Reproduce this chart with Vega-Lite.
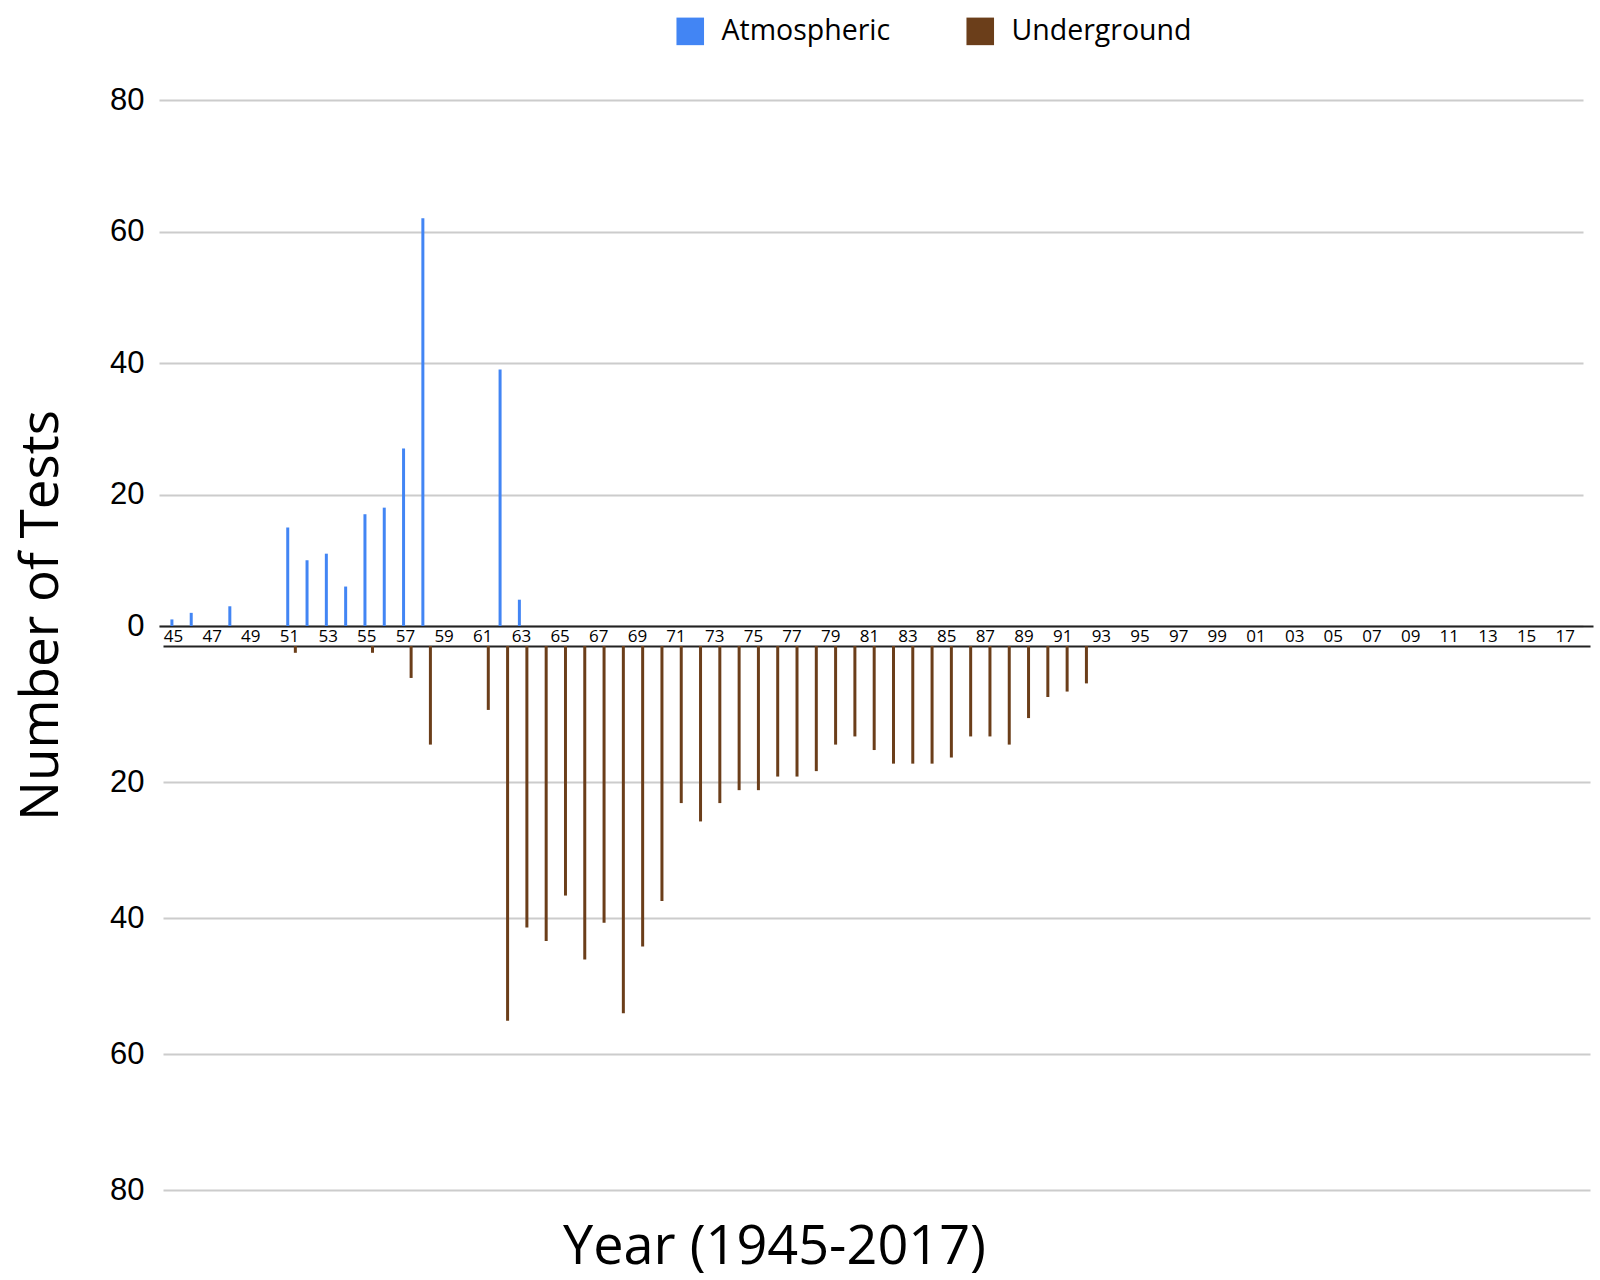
{
  "$schema": "https://vega.github.io/schema/vega-lite/v6.json",
  "padding": {"left": 15, "top": 17, "right": 5, "bottom": 5},
  "autosize": {"type": "pad"},
  "background": "white",
  "bounds": "flush",
  "spacing": 20,
  "config": {"view": {"stroke": null}},
  "datasets": {
    "atm": [
      {"year": 1945, "tests": 1, "type": "Atmospheric"},
      {"year": 1946, "tests": 2, "type": "Atmospheric"},
      {"year": 1948, "tests": 3, "type": "Atmospheric"},
      {"year": 1951, "tests": 15, "type": "Atmospheric"},
      {"year": 1952, "tests": 10, "type": "Atmospheric"},
      {"year": 1953, "tests": 11, "type": "Atmospheric"},
      {"year": 1954, "tests": 6, "type": "Atmospheric"},
      {"year": 1955, "tests": 17, "type": "Atmospheric"},
      {"year": 1956, "tests": 18, "type": "Atmospheric"},
      {"year": 1957, "tests": 27, "type": "Atmospheric"},
      {"year": 1958, "tests": 62, "type": "Atmospheric"},
      {"year": 1962, "tests": 39, "type": "Atmospheric"},
      {"year": 1963, "tests": 4, "type": "Atmospheric"}
    ],
    "und": [
      {"year": 1951, "tests": 1, "type": "Underground"},
      {"year": 1955, "tests": 1, "type": "Underground"},
      {"year": 1957, "tests": 4.7, "type": "Underground"},
      {"year": 1958, "tests": 14.5, "type": "Underground"},
      {"year": 1961, "tests": 9.4, "type": "Underground"},
      {"year": 1962, "tests": 55.1, "type": "Underground"},
      {"year": 1963, "tests": 41.4, "type": "Underground"},
      {"year": 1964, "tests": 43.4, "type": "Underground"},
      {"year": 1965, "tests": 36.7, "type": "Underground"},
      {"year": 1966, "tests": 46.1, "type": "Underground"},
      {"year": 1967, "tests": 40.7, "type": "Underground"},
      {"year": 1968, "tests": 54, "type": "Underground"},
      {"year": 1969, "tests": 44.2, "type": "Underground"},
      {"year": 1970, "tests": 37.5, "type": "Underground"},
      {"year": 1971, "tests": 23.1, "type": "Underground"},
      {"year": 1972, "tests": 25.8, "type": "Underground"},
      {"year": 1973, "tests": 23.1, "type": "Underground"},
      {"year": 1974, "tests": 21.2, "type": "Underground"},
      {"year": 1975, "tests": 21.2, "type": "Underground"},
      {"year": 1976, "tests": 19.2, "type": "Underground"},
      {"year": 1977, "tests": 19.2, "type": "Underground"},
      {"year": 1978, "tests": 18.4, "type": "Underground"},
      {"year": 1979, "tests": 14.5, "type": "Underground"},
      {"year": 1980, "tests": 13.3, "type": "Underground"},
      {"year": 1981, "tests": 15.3, "type": "Underground"},
      {"year": 1982, "tests": 17.3, "type": "Underground"},
      {"year": 1983, "tests": 17.3, "type": "Underground"},
      {"year": 1984, "tests": 17.3, "type": "Underground"},
      {"year": 1985, "tests": 16.4, "type": "Underground"},
      {"year": 1986, "tests": 13.3, "type": "Underground"},
      {"year": 1987, "tests": 13.3, "type": "Underground"},
      {"year": 1988, "tests": 14.5, "type": "Underground"},
      {"year": 1989, "tests": 10.6, "type": "Underground"},
      {"year": 1990, "tests": 7.5, "type": "Underground"},
      {"year": 1991, "tests": 6.7, "type": "Underground"},
      {"year": 1992, "tests": 5.5, "type": "Underground"}
    ]
  },
  "vconcat": [
    {
      "width": 1424,
      "height": 526,
      "data": {"name": "atm"},
      "layer": [
        {
          "mark": {"type": "bar", "size": 3},
          "encoding": {
            "x": {"field": "year", "type": "quantitative", "scale": {"domain": [1944.59, 2017.84], "nice": false, "zero": false}, "axis": null},
            "y": {
              "field": "tests", "type": "quantitative",
              "scale": {"domain": [0, 80], "nice": false},
              "axis": {
                "values": [0, 20, 40, 60, 80], "grid": true, "gridColor": "#cccccc", "gridWidth": 2,
                "domain": false, "ticks": false, "tickSize": 0,
                "labelFont": "Liberation Sans", "labelFontSize": 31, "labelColor": "black", "labelPadding": 15,
                "title": "Number of Tests", "titleFont": "Open Sans", "titleFontSize": 53, "titleFontWeight": "normal",
                "titleColor": "black", "titleAngle": 270, "titleAlign": "center", "titleBaseline": "middle",
                "titleX": -118, "titleY": 515
              }
            },
            "color": {
              "field": "type", "type": "nominal",
              "scale": {"domain": ["Atmospheric", "Underground"], "range": ["#4285F4", "#6B3E1A"]},
              "legend": {
                "title": null, "orient": "none", "legendX": 517, "legendY": -83, "direction": "horizontal",
                "symbolType": "square", "symbolSize": 760, "symbolStrokeWidth": 0, "symbolOpacity": 1,
                "labelFont": "Open Sans", "labelFontSize": 28.5, "labelColor": "black", "labelOffset": 17,
                "columnPadding": 75, "labelLimit": 400, "padding": 0
              }
            }
          }
        },
        {
          "mark": {"type": "point", "opacity": 0},
          "encoding": {
            "x": {
              "field": "year", "type": "quantitative",
              "scale": {"domain": [1944.276, 2018.46], "range": [0, 1434], "nice": false, "zero": false},
              "axis": {
                "orient": "bottom",
                "values": [1945, 1947, 1949, 1951, 1953, 1955, 1957, 1959, 1961, 1963, 1965, 1967, 1969, 1971, 1973, 1975, 1977, 1979, 1981, 1983, 1985, 1987, 1989, 1991, 1993, 1995, 1997, 1999, 2001, 2003, 2005, 2007, 2009, 2011, 2013, 2015, 2017],
                "format": "d", "labelExpr": "substring(datum.label, 2, 4)",
                "title": null, "ticks": false, "tickSize": 0, "grid": false,
                "domain": true, "domainColor": "#222222", "domainWidth": 2,
                "labelFont": "Open Sans", "labelFontSize": 17, "labelColor": "black", "labelPadding": 2,
                "labelOverlap": false, "labelFlush": false, "labelBound": false
              }
            }
          }
        }
      ],
      "resolve": {"scale": {"x": "independent"}}
    },
    {
      "width": 1424,
      "height": 544,
      "data": {"name": "und"},
      "mark": {"type": "bar", "size": 3},
      "encoding": {
        "x": {
          "field": "year", "type": "quantitative",
          "scale": {"domain": [1944.4, 2017.84], "range": [4, 1431], "nice": false, "zero": false},
          "axis": {
            "orient": "top", "labels": false, "ticks": false, "tickSize": 0, "grid": false,
            "domain": true, "domainColor": "#222222", "domainWidth": 2,
            "title": "Year (1945-2017)", "titleFont": "Open Sans", "titleFontSize": 54, "titleFontWeight": "normal",
            "titleColor": "black", "titleX": 615, "titleY": 601, "titleAlign": "center", "titleBaseline": "middle"
          }
        },
        "y": {
          "field": "tests", "type": "quantitative",
          "scale": {"domain": [0, 80], "nice": false, "reverse": true},
          "axis": {
            "values": [20, 40, 60, 80], "grid": true, "gridColor": "#cccccc", "gridWidth": 2,
            "domain": false, "ticks": false, "tickSize": 0,
            "labelFont": "Liberation Sans", "labelFontSize": 31, "labelColor": "black", "labelPadding": 15,
            "title": null
          }
        },
        "color": {
          "field": "type", "type": "nominal",
          "scale": {"domain": ["Atmospheric", "Underground"], "range": ["#4285F4", "#6B3E1A"]}
        }
      }
    }
  ]
}
